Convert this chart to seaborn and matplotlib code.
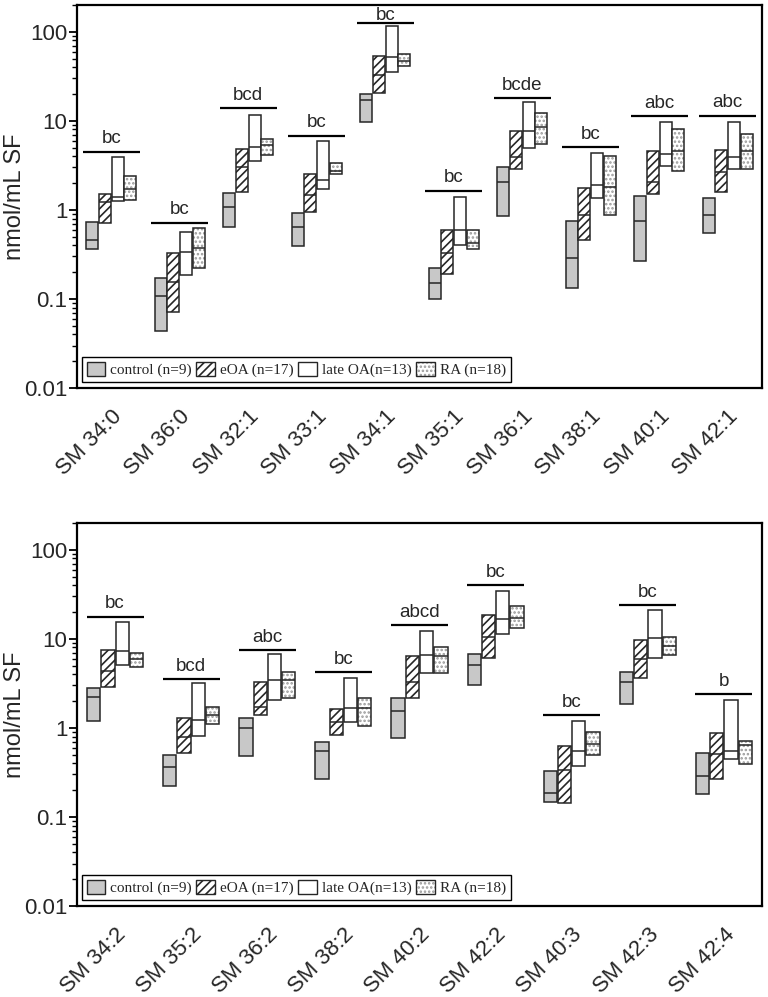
import numpy as np
import matplotlib
matplotlib.use("Agg")
import matplotlib.pyplot as plt
import seaborn as sns
from matplotlib.patches import Patch
from matplotlib.ticker import FixedLocator, FixedFormatter, LogLocator, NullFormatter

sns.set_theme(style="ticks")
plt.rcParams['font.family'] = ['Liberation Sans', 'DejaVu Sans']
plt.rcParams['hatch.linewidth'] = 1.2

group_labels = ["control (n=9)", "eOA (n=17)", "late OA(n=13)", "RA (n=18)"]

# ---------- top panel: [Q1, median, Q3] per category ----------
top_categories = ["SM 34:0", "SM 36:0", "SM 32:1", "SM 33:1", "SM 34:1",
                  "SM 35:1", "SM 36:1", "SM 38:1", "SM 40:1", "SM 42:1"]
top_control = [[0.36, 0.46, 0.74], [0.044, 0.109, 0.17], [0.64, 1.07, 1.54],
               [0.39, 0.64, 0.92], [9.7, 17.2, 19.8], [0.099, 0.15, 0.225],
               [0.86, 2.08, 3.0], [0.134, 0.286, 0.76], [0.27, 0.76, 1.43],
               [0.55, 0.88, 1.35]]
top_eoa = [[0.72, 1.24, 1.5], [0.071, 0.157, 0.33], [1.58, 3.07, 4.8],
           [0.95, 1.47, 2.5], [20.5, 33, 53], [0.19, 0.33, 0.6],
           [2.86, 3.9, 7.65], [0.46, 0.88, 1.75], [1.5, 2.08, 4.6],
           [1.6, 2.65, 4.7]]
top_lateoa = [[1.25, 1.39, 3.9], [0.185, 0.34, 0.56], [3.5, 5.15, 11.7],
              [1.72, 2.15, 5.9], [35.5, 52, 115], [0.40, 0.6, 1.41],
              [5.0, 7.7, 16.1], [1.35, 1.91, 4.3], [3.1, 4.26, 9.6],
              [2.86, 3.97, 9.6]]
top_ra = [[1.3, 1.7, 2.4], [0.22, 0.37, 0.62], [4.1, 5.3, 6.2],
          [2.54, 2.77, 3.4], [41, 47, 57], [0.365, 0.43, 0.59],
          [5.5, 8.5, 12.4], [0.88, 1.83, 4.0], [2.77, 4.6, 8.1],
          [2.9, 4.6, 7.1]]
top_sig_level = [4.5, 0.72, 13.9, 6.8, 127, 1.65, 18.1, 5.1, 11.2, 11.4]
top_sig_text = ["bc", "bc", "bcd", "bc", "bc", "bc", "bcde", "bc", "abc", "abc"]

# ---------- bottom panel ----------
bot_categories = ["SM 34:2", "SM 35:2", "SM 36:2", "SM 38:2", "SM 40:2",
                  "SM 42:2", "SM 40:3", "SM 42:3", "SM 42:4"]
bot_control = [[1.19, 2.23, 2.8], [0.22, 0.36, 0.49], [0.48, 1.0, 1.28],
               [0.27, 0.55, 0.69], [0.77, 1.54, 2.15], [3.07, 5.06, 6.8],
               [0.146, 0.186, 0.33], [1.85, 3.26, 4.2], [0.183, 0.286, 0.52]]
bot_eoa = [[2.9, 4.4, 7.5], [0.52, 0.79, 1.28], [1.39, 1.72, 3.26],
           [0.83, 1.17, 1.62], [2.19, 3.3, 6.4], [6.1, 10.5, 18.3],
           [0.145, 0.34, 0.63], [3.6, 5.9, 9.7], [0.267, 0.515, 0.87]]
bot_lateoa = [[5.15, 7.3, 15.4], [0.82, 1.22, 3.2], [2.05, 3.46, 6.7],
              [1.15, 1.66, 3.6], [4.1, 6.55, 12.2], [11.2, 16.9, 34.9],
              [0.37, 0.55, 1.21], [6.1, 10.3, 21], [0.45, 0.55, 2.08]]
bot_ra = [[4.85, 6.0, 6.9], [1.12, 1.38, 1.72], [2.14, 3.46, 4.2],
          [1.04, 1.66, 2.17], [4.1, 6.4, 8.1], [13.3, 17.2, 23.3],
          [0.50, 0.66, 0.89], [6.55, 8.4, 10.4], [0.39, 0.65, 0.71]]
bot_sig_level = [17.8, 3.55, 7.5, 4.2, 14.2, 39.8, 1.38, 23.9, 2.4]
bot_sig_text = ["bc", "bcd", "abc", "bc", "abcd", "bc", "bc", "bc", "b"]

y_ticks = [0.01, 0.1, 1, 10, 100]
y_tick_labels = ["0.01", "0.1", "1", "10", "100"]

EDGE = "0.15"
PITCH = 0.187
WIDTH = 0.175
YMAX = 200


def draw_group(ax, xs, stats, g):
    s = np.asarray(stats, dtype=float)
    lo, med, hi = s[:, 0], s[:, 1], s[:, 2]
    if g == 0:
        ax.bar(xs, hi - lo, bottom=lo, width=WIDTH, facecolor="#c8c8c8",
               edgecolor=EDGE, linewidth=1.1, zorder=2)
    elif g == 1:
        ax.bar(xs, hi - lo, bottom=lo, width=WIDTH, facecolor="white",
               edgecolor=EDGE, hatch="////", linewidth=1.1, zorder=2)
    elif g == 2:
        ax.bar(xs, hi - lo, bottom=lo, width=WIDTH, facecolor="white",
               edgecolor=EDGE, linewidth=1.1, zorder=2)
    else:
        ax.bar(xs, hi - lo, bottom=lo, width=WIDTH, facecolor="white",
               edgecolor="0.6", hatch="....", linewidth=0, zorder=2)
        ax.bar(xs, hi - lo, bottom=lo, width=WIDTH, fill=False,
               edgecolor=EDGE, linewidth=1.1, zorder=2.5)
    ax.hlines(med, xs - WIDTH / 2, xs + WIDTH / 2, color=EDGE, linewidth=1.1,
              zorder=3)


def draw_panel(ax, cats, series, sig_level, sig_text, sig_half):
    n = len(cats)
    base = np.arange(n)
    for g, stats in enumerate(series):
        xs = base + (g - 1.5) * PITCH
        draw_group(ax, xs, stats, g)
    ax.hlines(sig_level, base - sig_half, base + sig_half, color="black",
              linewidth=1.6, zorder=3)
    for i, (lvl, txt) in enumerate(zip(sig_level, sig_text)):
        off = 6 if lvl < YMAX * 0.5 else 2
        ax.annotate(txt, (i, lvl), xytext=(0, off), textcoords="offset points",
                    ha="center", va="baseline", fontsize=13.5)
    ax.set_yscale("log")
    ax.set_ylim(0.01, YMAX)
    ax.set_xlim(-0.5, n - 0.5)
    ax.yaxis.set_major_locator(FixedLocator(y_ticks))
    ax.yaxis.set_major_formatter(FixedFormatter(y_tick_labels))
    ax.yaxis.set_minor_locator(LogLocator(base=10, subs=np.arange(2, 10)))
    ax.yaxis.set_minor_formatter(NullFormatter())
    ax.tick_params(axis="y", which="major", direction="out", length=6,
                   width=1.3, labelsize=16, pad=1, color="black")
    ax.tick_params(axis="y", which="minor", direction="out", length=3.5,
                   width=1.0, color="black")
    ax.set_xticks(base)
    ax.set_xticklabels(cats, rotation=45, ha="right", rotation_mode="anchor",
                       fontsize=16)
    ax.tick_params(axis="x", length=0, pad=13)
    for sp in ax.spines.values():
        sp.set_visible(True)
        sp.set_linewidth(1.6)
        sp.set_color("black")
    ax.set_ylabel("nmol/mL SF", fontsize=17)
    ax.yaxis.set_label_coords(-0.074, 0.5)
    ax.grid(False)

    handles = [
        Patch(facecolor="#c8c8c8", edgecolor=EDGE, linewidth=1.0),
        Patch(facecolor="white", edgecolor=EDGE, hatch="////", linewidth=1.0),
        Patch(facecolor="white", edgecolor=EDGE, linewidth=1.0),
        (Patch(facecolor="white", edgecolor="0.6", hatch="....", linewidth=0),
         Patch(fill=False, edgecolor=EDGE, linewidth=1.0)),
    ]
    leg = ax.legend(handles, group_labels, loc="lower left",
                    bbox_to_anchor=(5 / 685, 6 / 383), ncol=4,
                    prop={"family": "Liberation Serif", "size": 11},
                    frameon=True, fancybox=False, framealpha=1,
                    edgecolor="black", borderpad=0.3, handlelength=1.2,
                    handleheight=1.1, handletextpad=0.35, columnspacing=0.3,
                    borderaxespad=0)
    leg.get_frame().set_linewidth(1.0)


fig = plt.figure(figsize=(7.68, 9.97), dpi=100)
fig.patch.set_facecolor("white")
ax1 = fig.add_axes([77 / 768, 1 - 388 / 997, 685 / 768, 383 / 997])
ax2 = fig.add_axes([77 / 768, 1 - 906 / 997, 685 / 768, 383 / 997])

draw_panel(ax1, top_categories, [top_control, top_eoa, top_lateoa, top_ra],
           top_sig_level, top_sig_text, 0.415)
draw_panel(ax2, bot_categories, [bot_control, bot_eoa, bot_lateoa, bot_ra],
           bot_sig_level, bot_sig_text, 0.375)

fig.savefig("out.png", dpi=100, facecolor="white")
